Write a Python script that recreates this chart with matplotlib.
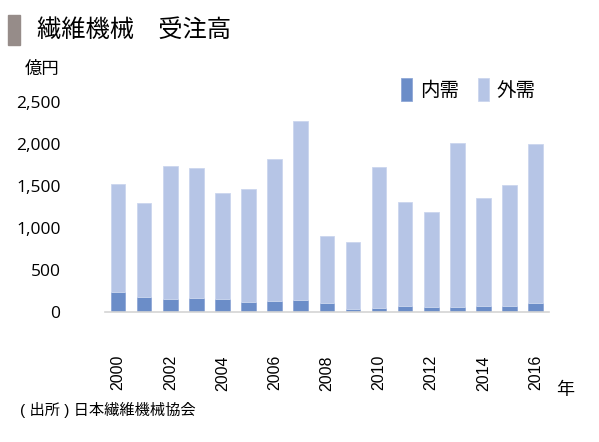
import matplotlib
matplotlib.use('Agg')
import matplotlib.pyplot as plt
import numpy as np

plt.rcParams['font.family'] = ['Liberation Sans', 'Noto Sans CJK JP', 'DejaVu Sans']

# 繊維機械 受注高 (億円)
years = list(range(2000, 2017))
naiju = [241, 181, 154, 170, 154, 122, 134, 146, 107, 40, 51, 75, 63, 63, 75, 75, 110]
gaiju = [1284, 1114, 1588, 1548, 1268, 1347, 1691, 2133, 802, 790, 1675, 1240, 1130, 1952, 1288, 1434, 1885]
yticks = [0, 500, 1000, 1500, 2000, 2500]
ytick_labels = ['0', '500', '1,000', '1,500', '2,000', '2,500']

c_in = '#6b8dc8'
c_out = '#b6c5e6'

fig = plt.figure(figsize=(5.99, 4.42), dpi=100)
ax = fig.add_axes([0.1753, 0.2941, 0.7407, 0.4751])

x = np.arange(len(years))
ax.bar(x, naiju, 0.56, color=c_in, edgecolor='#8fa8d6', linewidth=0.6, label='内需')
ax.bar(x, gaiju, 0.56, bottom=naiju, color=c_out, edgecolor='#cbd6ee', linewidth=0.6, label='外需')

ax.set_xlim(-0.5, 16.5)
ax.set_ylim(0, 2500)
ax.set_yticks(yticks)
ax.set_yticklabels(ytick_labels, fontsize=12.5, family=['Open Sans', 'DejaVu Sans'])
ax.set_xticks(x[::2])
ax.set_xticklabels([str(y) for y in years[::2]], rotation=90, fontsize=11.5)
ax.tick_params(axis='y', length=0, pad=32)
ax.tick_params(axis='x', length=0, pad=31)
for s in ['top', 'right', 'left']:
    ax.spines[s].set_visible(False)
ax.spines['bottom'].set_color('#d4d4d4')
ax.spines['bottom'].set_linewidth(1.2)

leg = ax.legend(loc='upper left', bbox_to_anchor=(0.628, 1.20), ncol=2, frameon=False,
                fontsize=14, handlelength=0.55, handleheight=1.5, handletextpad=0.4,
                columnspacing=1.0)

# タイトル
fig.patches.append(plt.Rectangle((8 / 599, 1 - 45 / 442), 12 / 599, 30 / 442,
                                 transform=fig.transFigure, color='#968c89'))
fig.text(37 / 599, 1 - 31 / 442, '繊維機械　受注高', fontsize=17.5, va='center', ha='left')
fig.text(25 / 599, 1 - 69 / 442, '億円', fontsize=12.5, va='center', ha='left')
fig.text(565 / 599, 1 - 391 / 442, '年', fontsize=13, va='center', ha='center')
fig.text(20 / 599, 1 - 410 / 442, '( 出所 ) 日本繊維機械協会', fontsize=11, va='center', ha='left')

fig.savefig('out.png', dpi=100)
